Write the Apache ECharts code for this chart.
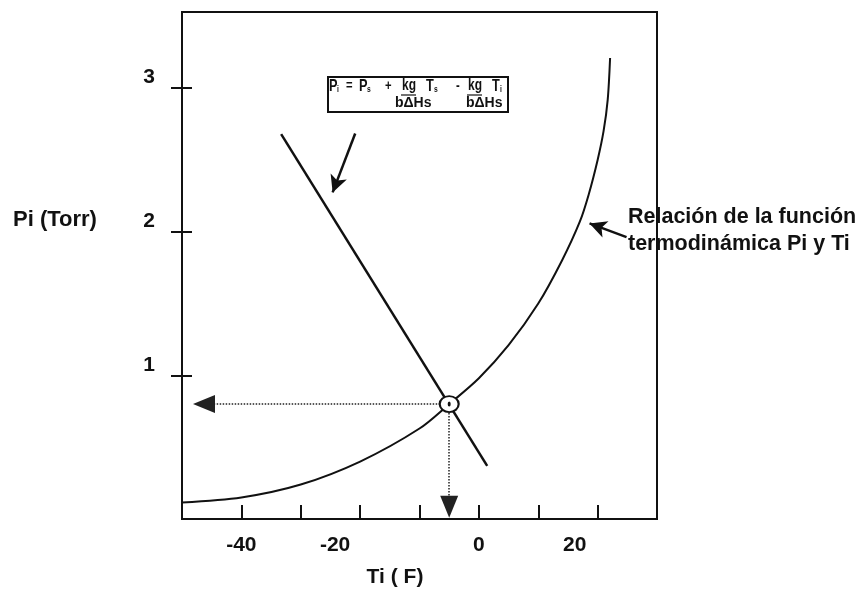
<!DOCTYPE html>
<html>
<head>
<meta charset="utf-8">
<script src="https://cdn.jsdelivr.net/npm/echarts@6/dist/echarts.min.js"></script>
<style>
  html, body { margin: 0; padding: 0; background: #fff; }
  #chart { width: 864px; height: 591px; }
</style>
</head>
<body>
<div id="chart"></div>
<script>
// Saturation curve: interface temperature Ti (°F) against interface pressure Pi (Torr)
const tempF    = [-50, -40, -30, -20, -10, -5, 0, 5, 10, 14, 17, 18.5, 20, 21, 21.7, 22.1];
const presTorr = [0.115, 0.15, 0.24, 0.40, 0.63, 0.80, 0.98, 1.21, 1.50, 1.80, 2.07, 2.26, 2.50, 2.70, 2.92, 3.21];

// Operating line  Pi = Ps + kg/(bΔHs)·Ts − kg/(bΔHs)·Ti
const opLineT = [-33.3, 1.4];
const opLineP = [2.68, 0.37];

// Point where the operating line meets the saturation curve
const opPoint = [-5, 0.80];

// Tick positions and the axis labels that are printed
const xTickValues  = [-40, -30, -20, -10, 0, 10, 20];
const xLabelValues = [-40, -20, 0, 20];
const yLabelValues = [1, 2, 3];

// Pointer arrows (data coordinates: tail, head)
const formulaArrow = [[-20.83, 2.684], [-24.63, 2.274]];
const curveArrow   = [[24.87, 1.963], [18.64, 2.058]];
// Guide arrows from the operating point down to each axis
const guideToY = [opPoint, [-46.3, opPoint[1]]];
const guideToX = [opPoint, [opPoint[0], 0.086]];

const FONT = '"Liberation Sans", Arial, sans-serif';
const INK = '#111';

function label(x, y, text, size, extra) {
  return Object.assign({
    type: 'text', x: x, y: y, z: 101,
    style: {
      text: text, font: 'bold ' + size + 'px ' + FONT, fill: INK,
      align: 'left', verticalAlign: 'middle'
    }
  }, extra || {});
}
// narrow glyphs used inside the formula box
function narrow(x, y, text, size) {
  return label(x, y, text, size, { scaleX: 0.75 });
}

const labelRich = {
  n: { fontFamily: FONT, fontWeight: 'bold', fontSize: 21, color: INK },
  a: { fontFamily: FONT, fontWeight: 'bold', fontSize: 21, color: INK, padding: [0, 50, 0, 0] },
  b: { fontFamily: FONT, fontWeight: 'bold', fontSize: 21, color: INK, padding: [0, 46, 0, 0] }
};

const chart = echarts.init(document.getElementById('chart'), null, { renderer: 'canvas' });

const option = {
  animation: false,
  backgroundColor: '#fff',
  // the grid border draws the frame, including the left and bottom axis lines
  grid: {
    left: 182, right: 207, top: 12, bottom: 72,
    show: true, borderColor: INK, borderWidth: 2, backgroundColor: 'transparent'
  },
  xAxis: {
    type: 'value', min: -50, max: 30, interval: 10,
    axisLine: { onZero: false, lineStyle: { color: INK, width: 2 } },
    axisTick: { inside: true, length: 14, customValues: xTickValues, lineStyle: { color: INK, width: 2 } },
    splitLine: { show: false },
    axisLabel: {
      margin: 16,
      customValues: xLabelValues,
      rich: labelRich,
      formatter: function (v) {
        const key = v === -20 ? 'a' : (v === 20 ? 'b' : 'n');
        return '{' + key + '|' + v + '}';
      }
    }
  },
  // shifted 10px inward so its ticks cross the frame line
  yAxis: {
    type: 'value', min: 0, max: 3.53, interval: 1, position: 'left', offset: -10,
    axisLine: { show: false, onZero: false },
    axisTick: { show: true, inside: false, length: 21, customValues: yLabelValues, lineStyle: { color: INK, width: 2 } },
    splitLine: { show: false },
    axisLabel: {
      margin: 37, verticalAlign: 'bottom',
      customValues: yLabelValues,
      fontFamily: FONT, fontWeight: 'bold', fontSize: 21, color: INK
    }
  },
  series: [
    {
      name: 'saturación',
      type: 'line',
      data: tempF.map(function (t, i) { return [t, presTorr[i]]; }),
      smooth: 0.3,
      showSymbol: false,
      lineStyle: { color: INK, width: 2 },
      markLine: {
        silent: true, animation: false,
        symbol: ['none', 'triangle'], symbolSize: [18, 22],
        label: { show: false },
        lineStyle: { color: '#222', width: 1.5, type: 'dotted' },
        data: [
          [{ coord: guideToY[0] }, { coord: guideToY[1] }],
          [{ coord: guideToX[0] }, { coord: guideToX[1] }]
        ]
      }
    },
    {
      name: 'operación',
      type: 'line',
      data: opLineT.map(function (t, i) { return [t, opLineP[i]]; }),
      showSymbol: false,
      lineStyle: { color: INK, width: 2.5 },
      markLine: {
        silent: true, animation: false,
        symbol: ['none', 'arrow'], symbolSize: [13, 17],
        label: { show: false },
        lineStyle: { color: INK, width: 2.5, type: 'solid' },
        data: [
          [{ coord: formulaArrow[0] }, { coord: formulaArrow[1] }],
          [{ coord: curveArrow[0] }, { coord: curveArrow[1] }]
        ]
      }
    },
    {
      name: 'punto',
      type: 'scatter',
      z: 10,
      data: [opPoint],
      symbol: 'circle',
      symbolSize: [19, 16],
      itemStyle: { color: '#fff', borderColor: INK, borderWidth: 2, opacity: 1 }
    },
    {
      name: 'centro',
      type: 'scatter',
      z: 11,
      data: [opPoint],
      symbol: 'circle',
      symbolSize: [3, 5],
      itemStyle: { color: INK, opacity: 1 }
    }
  ],
  graphic: [
    // axis titles
    label(13, 220, 'Pi (Torr)', 22),
    label(395, 577, 'Ti ( F)', 21, { style: { text: 'Ti ( F)', font: 'bold 21px ' + FONT, fill: INK, align: 'center', verticalAlign: 'middle' } }),
    // curve description
    label(628, 217, 'Relación de la función', 21.5),
    label(628, 244, 'termodinámica Pi y Ti', 21.5),
    // operating-line formula box
    {
      type: 'rect', z: 100,
      shape: { x: 328, y: 77, width: 180, height: 35 },
      style: { fill: '#fff', stroke: INK, lineWidth: 2 }
    },
    narrow(329, 86, 'P', 17),
    narrow(337, 90, 'i', 9),
    narrow(346, 86, '=', 15),
    narrow(359, 86, 'P', 17),
    narrow(367, 90, 's', 9),
    narrow(385, 86, '+', 15),
    narrow(402, 86, 'kg', 16),
    narrow(426, 86, 'T', 17),
    narrow(434, 90, 's', 9),
    narrow(456, 86, '-', 15),
    narrow(468, 86, 'kg', 16),
    narrow(492, 86, 'T', 17),
    narrow(500, 90, 'i', 9),
    { type: 'line', z: 101, shape: { x1: 401, y1: 95, x2: 416, y2: 95 }, style: { stroke: INK, lineWidth: 1.2 } },
    { type: 'line', z: 101, shape: { x1: 467, y1: 95, x2: 482, y2: 95 }, style: { stroke: INK, lineWidth: 1.2 } },
    label(395, 103, 'bΔHs', 14),
    label(466, 103, 'bΔHs', 14)
  ]
};

chart.setOption(option);
</script>
</body>
</html>
